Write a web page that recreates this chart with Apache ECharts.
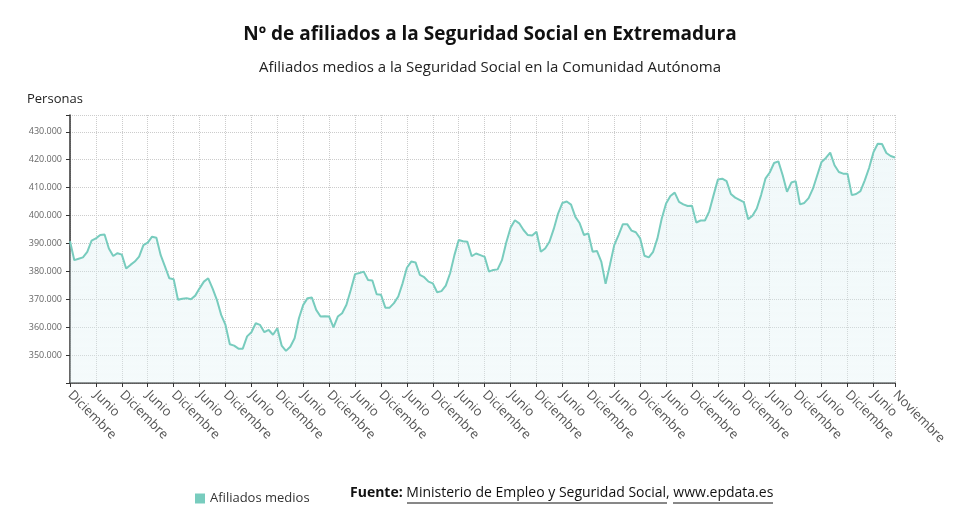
<!DOCTYPE html>
<html>
<head>
<meta charset="utf-8">
<script src="https://cdn.jsdelivr.net/npm/echarts@6/dist/echarts.min.js"></script>
<style>html,body{margin:0;padding:0;background:#fff}#echarts{width:980px;height:532px}</style>
</head>
<body>
<div id="echarts"></div>
<script>
// meses (dic 2007 - nov 2023)
var monthNames = ['Enero','Febrero','Marzo','Abril','Mayo','Junio','Julio','Agosto','Septiembre','Octubre','Noviembre','Diciembre'];
var startMonth = 11; // diciembre
// afiliados medios, en miles
var afiliados = [
390.8,384,384.5,385,387,391,391.8,393,393.2,388.2,385.5,386.5,
386,381,382.3,383.5,385.3,389.4,390.3,392.4,392,385.8,381.7,377.5,
377.2,369.8,370.2,370.4,370,371.3,373.9,376.3,377.5,373.9,369.8,364.4,
360.8,353.9,353.4,352.3,352.3,356.7,358.2,361.4,360.8,358.2,359,357.3,
359.6,353.4,351.5,353,356,363.2,368,370.4,370.6,366.2,363.8,363.9,
363.8,359.9,363.8,365,368,373.3,379,379.4,379.9,376.9,376.7,371.8,
371.6,367,367,368.6,371,375.7,381.3,383.5,383.2,378.7,377.9,376.3,
375.7,372.5,372.9,374.9,379.3,385.8,391.2,390.8,390.6,385.4,386.4,385.8,
385.2,379.9,380.5,380.7,384,390.3,395.6,398.3,397.2,394.8,393,392.8,
394.2,387,388.2,390.6,395.2,400.7,404.5,405,403.9,399.5,397.2,393,
393.6,387,387.3,383.5,375.5,382.3,389.4,393,396.9,396.9,394.6,394,
391.8,385.6,385,387,391.8,398.9,404.3,407,408.2,404.9,404,403.4,
403.5,397.5,398.2,398.2,401.5,407.3,412.9,413.2,412.3,407.7,406.4,405.6,
404.8,398.7,399.9,402.5,407.3,413.2,415.4,418.8,419.4,414.4,408.5,411.8,
412.3,404,404.5,406.2,409.6,414.4,419.2,420.6,422.5,418,415.6,415,
415,407.3,407.7,408.7,412.6,417,422.6,425.7,425.6,422.4,421.3,420.8
];
var categories = afiliados.map(function(v,i){ return monthNames[(startMonth+i)%12]; });
var seriesData = afiliados.map(function(v){ return Math.round(v*1000); });
var lastIdx = afiliados.length-1;

var myChart = echarts.init(document.getElementById('echarts'));
var font = '"Open Sans", sans-serif';
function marked(i){ return i%6===0||i===lastIdx; }
var option = {
    textStyle:{fontFamily:font},
    title:[
        {left:'center',top:20,text:'Nº de afiliados a la Seguridad Social en Extremadura',
         textStyle:{fontSize:19,fontWeight:'bold',color:'#111',fontFamily:font}},
        {left:'center',top:55,text:'Afiliados medios a la Seguridad Social en la Comunidad Autónoma',
         textStyle:{fontSize:15,fontWeight:'normal',color:'#222',fontFamily:font}},
        {left:22,top:88,text:'Personas',textStyle:{fontSize:13,fontWeight:'normal',color:'#222',fontFamily:font}}
    ],
    legend:{
        data:['Afiliados medios'],left:190,top:487,icon:'rect',itemWidth:10,itemHeight:10,
        selectedMode:false,textStyle:{fontSize:13,color:'#333',fontFamily:font}
    },
    grid:{left:70,right:85,top:115,bottom:149},
    xAxis:{
        type:'category',data:categories,boundaryGap:false,
        axisLine:{lineStyle:{color:'#333',width:1.5}},
        axisTick:{interval:marked,length:4,lineStyle:{color:'#333'}},
        axisLabel:{interval:marked,rotate:-45,fontSize:13,color:'#555',margin:10,fontFamily:font},
        splitLine:{show:true,interval:marked,lineStyle:{color:'#ccc',type:'dotted'}}
    },
    yAxis:{
        type:'value',min:340000,max:436000,interval:10000,
        axisLine:{show:true,lineStyle:{color:'#333',width:1.5}},
        axisTick:{show:true,length:4,lineStyle:{color:'#333'}},
        axisLabel:{fontSize:9,color:'#666',fontFamily:font,
            formatter:function(v){ if(v<350000||v>430000) return ''; return (v/1000).toFixed(3); }},
        splitLine:{lineStyle:{color:'#ccc',type:'dotted'}}
    },
    series:[{
        name:'Afiliados medios',type:'line',data:seriesData,symbol:'none',
        lineStyle:{color:'#78ccbe',width:2},itemStyle:{color:'#78ccbe'},
        areaStyle:{color:new echarts.graphic.LinearGradient(0,0,0,1,[{offset:0,color:'rgba(200,230,235,0.35)'},{offset:1,color:'rgba(225,242,244,0.5)'}])}
    }],
    graphic:[
        {type:'text',left:350,top:486,style:{text:'{b|Fuente:} Ministerio de Empleo y Seguridad Social, www.epdata.es',
            rich:{b:{fontWeight:'bold',fontSize:14,fill:'#111',fontFamily:font}},
            fontSize:14,fill:'#111',fontFamily:font}},
        // subrayado de los enlaces
        {type:'line',shape:{x1:407,y1:503,x2:667,y2:503},style:{stroke:'#111',lineWidth:1}},
        {type:'line',shape:{x1:673,y1:503,x2:773,y2:503},style:{stroke:'#111',lineWidth:1}}
    ]
};
myChart.setOption(option);
</script>
</body>
</html>
